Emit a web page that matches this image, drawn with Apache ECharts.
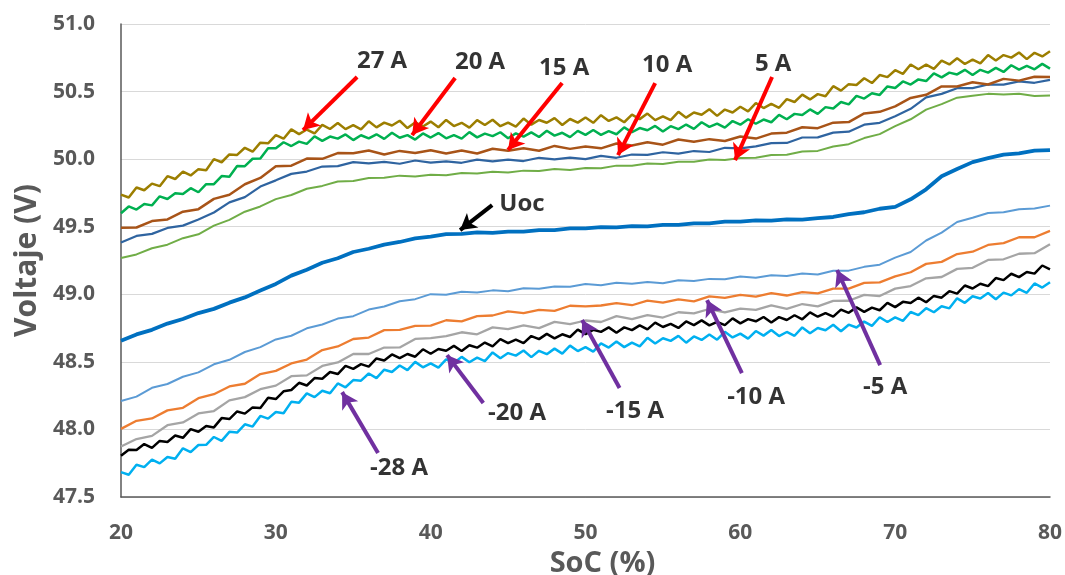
<!DOCTYPE html>
<html>
<head>
<meta charset="utf-8">
<script src="https://cdn.jsdelivr.net/npm/echarts@6/dist/echarts.min.js"></script>
<style>html,body{margin:0;padding:0;background:#fff;overflow:hidden}#c{width:1065px;height:575px}</style>
</head>
<body>
<div id="c"></div>
<script>
// SoC (%) sample points (1 % and 0.5 % steps)
var soc = [20,21,22,23,24,25,26,27,28,29,30,31,32,33,34,35,36,37,38,39,40,41,42,43,44,45,46,47,48,49,50,51,52,53,54,55,56,57,58,59,60,61,62,63,64,65,66,67,68,69,70,71,72,73,74,75,76,77,78,79,80];
var socFine = [20,20.5,21,21.5,22,22.5,23,23.5,24,24.5,25,25.5,26,26.5,27,27.5,28,28.5,29,29.5,30,30.5,31,31.5,32,32.5,33,33.5,34,34.5,35,35.5,36,36.5,37,37.5,38,38.5,39,39.5,40,40.5,41,41.5,42,42.5,43,43.5,44,44.5,45,45.5,46,46.5,47,47.5,48,48.5,49,49.5,50,50.5,51,51.5,52,52.5,53,53.5,54,54.5,55,55.5,56,56.5,57,57.5,58,58.5,59,59.5,60,60.5,61,61.5,62,62.5,63,63.5,64,64.5,65,65.5,66,66.5,67,67.5,68,68.5,69,69.5,70,70.5,71,71.5,72,72.5,73,73.5,74,74.5,75,75.5,76,76.5,77,77.5,78,78.5,79,79.5,80];

// Voltage (V) per series
var v27 = [49.738,49.716,49.79,49.77,49.819,49.80,49.874,49.853,49.907,49.879,49.926,49.918,50.00,49.977,50.035,50.031,50.084,50.055,50.122,50.117,50.178,50.151,50.22,50.185,50.219,50.19,50.254,50.223,50.267,50.222,50.251,50.221,50.28,50.235,50.27,50.249,50.284,50.23,50.272,50.242,50.278,50.236,50.29,50.245,50.269,50.233,50.289,50.253,50.292,50.244,50.271,50.241,50.30,50.255,50.29,50.269,50.304,50.253,50.297,50.27,50.308,50.269,50.325,50.283,50.309,50.273,50.329,50.296,50.337,50.289,50.316,50.288,50.35,50.307,50.345,50.329,50.369,50.32,50.367,50.345,50.388,50.354,50.415,50.378,50.409,50.38,50.444,50.423,50.477,50.442,50.481,50.466,50.54,50.507,50.555,50.549,50.599,50.563,50.622,50.607,50.658,50.631,50.70,50.665,50.699,50.668,50.729,50.701,50.747,50.704,50.736,50.708,50.77,50.73,50.77,50.751,50.789,50.74,50.787,50.76,50.798];
var v20 = [49.60,49.65,49.627,49.668,49.658,49.725,49.705,49.747,49.742,49.785,49.755,49.815,49.815,49.875,49.87,49.95,49.948,50.003,50.005,50.08,50.08,50.125,50.097,50.13,50.113,50.168,50.135,50.167,50.152,50.183,50.141,50.177,50.153,50.184,50.15,50.195,50.158,50.178,50.145,50.19,50.16,50.193,50.154,50.178,50.152,50.20,50.161,50.189,50.17,50.199,50.155,50.191,50.167,50.198,50.164,50.21,50.174,50.195,50.163,50.209,50.18,50.216,50.18,50.207,50.184,50.235,50.199,50.23,50.214,50.246,50.205,50.244,50.222,50.256,50.224,50.273,50.239,50.263,50.233,50.282,50.255,50.295,50.262,50.293,50.273,50.328,50.295,50.335,50.327,50.368,50.335,50.385,50.375,50.423,50.405,50.468,50.448,50.488,50.475,50.538,50.526,50.575,50.552,50.59,50.578,50.635,50.605,50.64,50.627,50.661,50.622,50.661,50.64,50.675,50.645,50.695,50.663,50.69,50.665,50.705,50.67];
var v15 = [49.493,49.494,49.542,49.554,49.611,49.63,49.706,49.736,49.814,49.861,49.948,49.952,50.004,50.002,50.045,50.043,50.064,50.034,50.061,50.046,50.066,50.042,50.064,50.042,50.077,50.062,50.081,50.062,50.098,50.076,50.094,50.08,50.116,50.101,50.125,50.107,50.145,50.129,50.148,50.134,50.168,50.152,50.189,50.196,50.236,50.229,50.27,50.274,50.338,50.35,50.39,50.453,50.476,50.538,50.538,50.569,50.552,50.594,50.581,50.61,50.607];
var v10 = [49.384,49.432,49.447,49.491,49.508,49.554,49.605,49.68,49.719,49.797,49.843,49.891,49.908,49.945,49.948,49.978,49.968,49.98,49.966,49.99,49.974,49.984,49.973,49.996,49.983,49.997,49.986,50.01,49.998,50.011,50.0,50.024,50.01,50.034,50.032,50.051,50.041,50.06,50.053,50.084,50.08,50.095,50.118,50.12,50.16,50.161,50.196,50.203,50.255,50.269,50.318,50.372,50.457,50.483,50.525,50.525,50.552,50.551,50.576,50.565,50.587];
var v5 = [49.269,49.295,49.341,49.367,49.415,49.444,49.508,49.551,49.611,49.65,49.704,49.735,49.781,49.802,49.835,49.839,49.86,49.862,49.878,49.872,49.884,49.881,49.897,49.893,49.907,49.901,49.915,49.912,49.927,49.92,49.934,49.933,49.952,49.951,49.967,49.964,49.98,49.98,49.997,49.993,50.009,50.01,50.031,50.033,50.056,50.061,50.093,50.111,50.156,50.185,50.244,50.295,50.366,50.407,50.455,50.469,50.483,50.478,50.484,50.467,50.471];
var vUoc = [48.656,48.703,48.737,48.783,48.817,48.861,48.892,48.938,48.977,49.028,49.077,49.138,49.182,49.233,49.267,49.313,49.337,49.368,49.387,49.413,49.427,49.445,49.447,49.458,49.455,49.463,49.463,49.475,49.475,49.487,49.487,49.497,49.495,49.505,49.503,49.513,49.513,49.525,49.525,49.537,49.537,49.547,49.545,49.555,49.553,49.563,49.572,49.593,49.607,49.633,49.647,49.703,49.777,49.873,49.927,49.978,50.007,50.033,50.042,50.063,50.067];
var vm5 = [48.211,48.243,48.308,48.336,48.39,48.422,48.482,48.515,48.573,48.609,48.666,48.693,48.748,48.776,48.82,48.838,48.887,48.91,48.948,48.964,49.001,48.996,49.018,49.013,49.029,49.022,49.045,49.041,49.057,49.056,49.076,49.067,49.086,49.078,49.091,49.082,49.104,49.099,49.114,49.112,49.131,49.122,49.141,49.136,49.153,49.147,49.174,49.175,49.203,49.219,49.271,49.313,49.398,49.456,49.535,49.566,49.602,49.607,49.63,49.634,49.656];
var vm10 = [48.004,48.064,48.081,48.141,48.16,48.231,48.261,48.318,48.338,48.41,48.433,48.488,48.517,48.587,48.614,48.669,48.68,48.735,48.736,48.766,48.768,48.808,48.799,48.838,48.843,48.874,48.861,48.885,48.877,48.915,48.91,48.917,48.935,48.919,48.953,48.939,48.962,48.948,48.984,48.974,48.995,48.982,49.009,48.991,49.016,49.007,49.042,49.042,49.084,49.088,49.133,49.163,49.225,49.24,49.298,49.315,49.365,49.379,49.422,49.422,49.469];
var vm15 = [47.874,47.929,47.952,48.031,48.052,48.118,48.136,48.215,48.239,48.298,48.324,48.394,48.40,48.47,48.496,48.558,48.558,48.606,48.607,48.67,48.675,48.69,48.719,48.704,48.755,48.742,48.77,48.75,48.796,48.78,48.806,48.795,48.838,48.816,48.845,48.828,48.867,48.858,48.891,48.866,48.894,48.884,48.918,48.892,48.928,48.91,48.951,48.952,48.996,48.987,49.042,49.061,49.118,49.128,49.188,49.196,49.254,49.259,49.30,49.304,49.37];
var vm20 = [47.805,47.85,47.847,47.892,47.863,47.915,47.907,47.955,47.938,48.002,47.983,48.026,48.015,48.084,48.077,48.133,48.117,48.163,48.158,48.235,48.225,48.282,48.292,48.345,48.325,48.38,48.375,48.425,48.41,48.47,48.448,48.483,48.465,48.525,48.51,48.555,48.527,48.558,48.538,48.593,48.56,48.595,48.582,48.618,48.58,48.623,48.605,48.643,48.615,48.668,48.638,48.665,48.639,48.691,48.668,48.707,48.674,48.704,48.684,48.738,48.705,48.737,48.722,48.755,48.715,48.755,48.735,48.77,48.74,48.79,48.758,48.781,48.751,48.799,48.772,48.807,48.77,48.796,48.772,48.822,48.785,48.816,48.80,48.832,48.791,48.831,48.81,48.845,48.815,48.866,48.834,48.861,48.835,48.887,48.863,48.903,48.87,48.901,48.882,48.937,48.905,48.944,48.935,48.975,48.941,48.988,48.975,49.023,49.005,49.065,49.043,49.078,49.06,49.12,49.105,49.152,49.127,49.165,49.153,49.213,49.185];
var vm28 = [47.684,47.665,47.739,47.721,47.777,47.749,47.796,47.783,47.86,47.832,47.885,47.886,47.944,47.915,47.982,47.977,48.038,48.021,48.10,48.08,48.129,48.12,48.204,48.198,48.267,48.239,48.286,48.268,48.34,48.312,48.365,48.361,48.414,48.38,48.442,48.425,48.473,48.439,48.50,48.46,48.489,48.458,48.519,48.491,48.537,48.497,48.531,48.506,48.57,48.527,48.565,48.546,48.584,48.535,48.582,48.557,48.598,48.561,48.62,48.58,48.609,48.576,48.636,48.606,48.651,48.609,48.642,48.615,48.678,48.636,48.675,48.655,48.692,48.642,48.688,48.662,48.702,48.664,48.722,48.681,48.709,48.672,48.728,48.694,48.735,48.691,48.721,48.693,48.755,48.712,48.75,48.734,48.774,48.727,48.775,48.754,48.798,48.766,48.83,48.795,48.829,48.803,48.869,48.846,48.897,48.867,48.911,48.896,48.97,48.937,48.985,48.969,49.009,48.963,49.012,48.992,49.038,49.011,49.08,49.05,49.089];

var seriesNames = ['27 A','20 A','15 A','10 A','5 A','Uoc','-5 A','-10 A','-15 A','-20 A','-28 A'];
var seriesValues = [v27, v20, v15, v10, v5, vUoc, vm5, vm10, vm15, vm20, vm28];
var seriesSoc = [socFine, socFine, soc, soc, soc, soc, soc, soc, soc, socFine, socFine];
var xTicks = [20,30,40,50,60,70,80];
var yTicks = [47.5,48.0,48.5,49.0,49.5,50.0,50.5,51.0];

// annotations (SoC %, V): label centre, arrow start, arrow tip
var annLabels = ['27 A','20 A','15 A','10 A','5 A','Uoc','-5 A','-10 A','-15 A','-20 A','-28 A'];
var annText = [[36.86,50.726],[43.19,50.719],[48.62,50.674],[55.27,50.697],[62.12,50.704],[45.9,49.668],[69.35,48.313],[61.02,48.24],[53.2,48.135],[45.58,48.12],[37.96,47.714]];
var annFrom = [[35.25,50.608],[41.58,50.60],[48.49,50.563],[54.5,50.563],[62.05,50.608],[43.97,49.66],[69.03,48.476],[60.1,48.417],[52.2,48.306],[43.4,48.195],[36.6,47.825]];
var annTo = [[31.76,50.215],[38.8,50.178],[45.0,50.067],[52.1,50.03],[59.66,49.993],[41.9,49.475],[66.25,49.18],[57.85,48.957],[49.78,48.81],[41.06,48.55],[34.28,48.276]];
var annColor = ['#FF0000','#FF0000','#FF0000','#FF0000','#FF0000','#000000','#7030A0','#7030A0','#7030A0','#7030A0','#7030A0'];

var colors = ['#9C7E00','#00B050','#A85418','#2F64A0','#70AD47','#0070C0','#5B9BD5','#ED7D31','#A5A5A5','#000000','#00B0F0'];
var widths = [2.5,2.5,2.5,2.2,2,3.8,2,2.3,2.3,2.5,2.5];
var drawOrder = [10,9,8,7,6,5,4,3,2,1,0];

var series = [];
drawOrder.forEach(function (k) {
  var xs = seriesSoc[k];
  series.push({
    name: seriesNames[k], type: 'line', showSymbol: false, symbol: 'none', silent: true,
    data: xs.map(function (s, i) { return [s, seriesValues[k][i]]; }),
    lineStyle: { color: colors[k], width: widths[k] }, z: 2
  });
});

series.push({
  name: 'labels', type: 'scatter', symbolSize: 0, silent: true, z: 5,
  data: annText.map(function (p, i) { return { value: [p[0], p[1]], label: { formatter: annLabels[i] } }; }),
  label: { show: true, position: 'inside', color: '#000', fontFamily: 'Open Sans', fontWeight: 'bold', fontSize: 24 },
  markLine: {
    silent: true, symbol: ['none', 'arrow'], symbolSize: [14, 16], animation: false,
    label: { show: false },
    data: annFrom.map(function (f, i) {
      return [{ coord: f, lineStyle: { color: annColor[i], width: 4, type: 'solid' } }, { coord: annTo[i] }];
    })
  }
});

var chart = echarts.init(document.getElementById('c'), null, { renderer: 'canvas', width: 1065, height: 575 });
chart.setOption({
  animation: false,
  backgroundColor: '#fff',
  grid: { left: 121, right: 15, top: 24, bottom: 78, containLabel: false, outerBoundsMode: 'none' },
  xAxis: {
    type: 'value', min: xTicks[0], max: xTicks[xTicks.length - 1], interval: 10,
    name: 'SoC (%)', nameLocation: 'middle', nameGap: 44,
    nameTextStyle: { fontFamily: 'Open Sans', fontWeight: 'bold', fontSize: 29, color: '#595959', padding: [0, 0, 0, 34] },
    axisLine: { show: true, onZero: false, lineStyle: { color: '#595959', width: 1.5 } },
    axisTick: { show: false },
    splitLine: { show: false },
    axisLabel: { margin: 26, fontFamily: 'Open Sans', fontWeight: 'bold', fontSize: 21, color: '#595959' }
  },
  yAxis: {
    type: 'value', min: yTicks[0], max: yTicks[yTicks.length - 1], interval: 0.5,
    name: 'Voltaje (V)', nameLocation: 'middle', nameGap: 78, nameRotate: 90,
    nameTextStyle: { fontFamily: 'Open Sans', fontWeight: 'bold', fontSize: 30, color: '#595959' },
    axisLine: { show: true, lineStyle: { color: '#595959', width: 1.5 } },
    axisTick: { show: false },
    splitLine: { show: true, lineStyle: { color: '#D9D9D9', width: 1 } },
    axisLabel: { margin: 26, fontFamily: 'Open Sans', fontWeight: 'bold', fontSize: 21, color: '#595959',
      formatter: function (v) { return v.toFixed(1); } }
  },
  series: series
});
</script>
</body>
</html>
